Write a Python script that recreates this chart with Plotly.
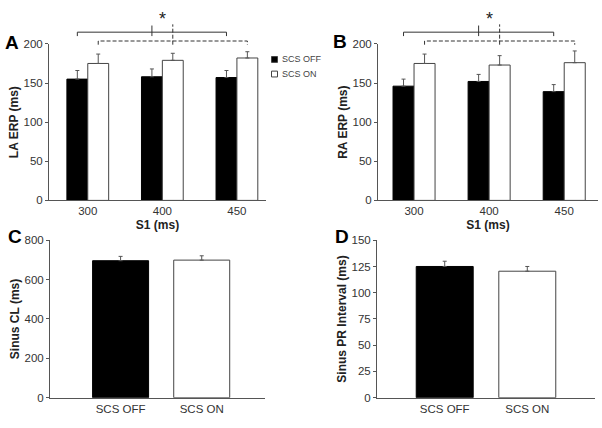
import plotly.graph_objects as go

# ---- data ----
s1_labels = ["300", "400", "450"]
la_off = [155, 158, 157]
la_off_err = [11, 10, 9]
la_on = [175, 179, 182]
la_on_err = [12, 9, 8]

ra_off = [146, 152, 139]
ra_off_err = [9, 9, 9]
ra_on = [175, 173, 176]
ra_on_err = [12, 12, 15]

cond_labels = ["SCS OFF", "SCS ON"]
cl_values = [696, 699]
cl_err = [22, 22]
pr_values = [125, 120.5]
pr_err = [5, 4.5]

FONT = "Arial, Liberation Sans, sans-serif"
AX = "#555555"
TXT = "#333333"
W, H = 602, 428

def px_x(p):
    return p / W

def px_y(p):
    return (H - p) / H

BW = 0.28
xs = list(range(len(s1_labels)))
xc = list(range(len(cond_labels)))

dom = {
    "A": dict(x=[px_x(49), px_x(266)], y=[px_y(200), px_y(39)], xr=[-0.52, 2.39]),
    "B": dict(x=[px_x(378), px_x(598)], y=[px_y(200), px_y(39)], xr=[-0.48, 2.45]),
    "C": dict(x=[px_x(50), px_x(265)], y=[px_y(403), px_y(241)], xr=[-0.87, 1.78]),
    "D": dict(x=[px_x(377), px_x(595)], y=[px_y(403), px_y(241)], xr=[-0.82, 1.82]),
}

fig = go.Figure()

def err(arr):
    return dict(type="data", symmetric=False, array=arr, arrayminus=[0] * len(arr),
                color=AX, thickness=1, width=2)

def pair(off, off_err, on, on_err, xa, ya):
    fig.add_bar(x=xs, y=off, width=BW, offset=-BW, name="SCS OFF",
                marker=dict(color="black", line=dict(color="black", width=1)),
                error_y=err(off_err), xaxis=xa, yaxis=ya, showlegend=False)
    fig.add_bar(x=xs, y=on, width=BW, offset=0, name="SCS ON",
                marker=dict(color="white", line=dict(color="#444444", width=1)),
                error_y=err(on_err), xaxis=xa, yaxis=ya, showlegend=False)

pair(la_off, la_off_err, la_on, la_on_err, "x", "y")
pair(ra_off, ra_off_err, ra_on, ra_on_err, "x2", "y2")

for vals, errs, xa, ya in [(cl_values, cl_err, "x3", "y3"), (pr_values, pr_err, "x4", "y4")]:
    fig.add_bar(x=xc, y=vals, width=0.69,
                marker=dict(color=["black", "white"], line=dict(color=["black", "#444444"], width=1)),
                error_y=err(errs), xaxis=xa, yaxis=ya, showlegend=False)

tickfont = dict(family=FONT, size=11.5, color=TXT)
titlefont = dict(family=FONT, size=12, color="#222222")

def xaxis(d, tv, tt, ya, title=None):
    a = dict(domain=d["x"], range=d["xr"], tickvals=tv, ticktext=tt, showline=True,
             linecolor=AX, linewidth=1, ticks="", showgrid=False, zeroline=False,
             tickfont=tickfont, fixedrange=True, anchor=ya)
    if title:
        a["title"] = dict(text="<b>" + title + "</b>", font=titlefont, standoff=4)
    return a

def yaxis(d, rng, dtick, title, xa, standoff):
    return dict(domain=d["y"], range=rng, dtick=dtick, showline=True, linecolor=AX,
                linewidth=1, ticks="outside", ticklen=3, tickcolor=AX, showgrid=False,
                zeroline=False, tickfont=tickfont, anchor=xa, fixedrange=True,
                title=dict(text="<b>" + title + "</b>", font=titlefont, standoff=standoff))

fig.update_layout(
    width=W, height=H, margin=dict(l=0, r=0, t=0, b=0),
    paper_bgcolor="white", plot_bgcolor="white", barmode="overlay",
    font=dict(family=FONT, color=TXT),
    xaxis=xaxis(dom["A"], xs, s1_labels, "y", "S1 (ms)"),
    yaxis=yaxis(dom["A"], [0, 200], 50, "LA ERP (ms)", "x", 2),
    xaxis2=xaxis(dom["B"], xs, s1_labels, "y2", "S1 (ms)"),
    yaxis2=yaxis(dom["B"], [0, 200], 50, "RA ERP (ms)", "x2", 2),
    xaxis3=xaxis(dom["C"], xc, cond_labels, "y3"),
    yaxis3=yaxis(dom["C"], [0, 800], 200, "Sinus CL (ms)", "x3", 2),
    xaxis4=xaxis(dom["D"], xc, cond_labels, "y4"),
    yaxis4=yaxis(dom["D"], [0, 150], 25, "Sinus PR Interval (ms)", "x4", 2),
)

# ---- significance brackets (data units above the 0-200 scale) ----
def ypaper(d, v, top=200.0):
    y0, y1 = d["y"]
    return y0 + v / top * (y1 - y0)

shapes = []
annotations = []
for key, xa in [("A", "x"), ("B", "x2")]:
    d = dom[key]
    blk = [x - BW / 2 for x in xs]
    wht = [x + BW / 2 for x in xs]
    solid = dict(color="#333333", width=1)
    dashed = dict(color="#333333", width=1, dash="4px,2px")
    shapes.append(dict(type="path", xref=xa, yref="paper", line=solid,
                       path=f"M {blk[0]},{ypaper(d,210)} L {blk[0]},{ypaper(d,215)} "
                            f"L {blk[2]},{ypaper(d,215)} L {blk[2]},{ypaper(d,210)}"))
    shapes.append(dict(type="line", xref=xa, yref="paper", line=solid,
                       x0=blk[1], x1=blk[1], y0=ypaper(d, 210), y1=ypaper(d, 223.5)))
    shapes.append(dict(type="path", xref=xa, yref="paper", line=dashed,
                       path=f"M {wht[0]},{ypaper(d,199)} L {wht[0]},{ypaper(d,203.7)} "
                            f"L {wht[2]},{ypaper(d,203.7)} L {wht[2]},{ypaper(d,199)}"))
    shapes.append(dict(type="line", xref=xa, yref="paper", line=dashed,
                       x0=wht[1], x1=wht[1], y0=ypaper(d, 199), y1=ypaper(d, 225)))
    annotations.append(dict(x=(blk[1] + wht[1]) / 2, y=ypaper(d, 232), xref=xa, yref="paper",
                            text="*", showarrow=False, font=dict(family=FONT, size=18, color="#222222"),
                            xanchor="center", yanchor="middle"))

# panel letters
for letter, px, py in [("A", 12, 38), ("B", 340, 37), ("C", 15, 237), ("D", 342, 237)]:
    annotations.append(dict(x=px_x(px), y=px_y(py), xref="paper", yref="paper", text=f"<b>{letter}</b>",
                            showarrow=False, font=dict(family=FONT, size=19, color="black"),
                            xanchor="center", yanchor="middle"))

# legend
for i, (lab, fc) in enumerate(zip(cond_labels, ["black", "white"])):
    cy = 55 + 15 * i
    shapes.append(dict(type="rect", xref="paper", yref="paper",
                       x0=px_x(271.5), x1=px_x(277.5), y0=px_y(cy + 3), y1=px_y(cy - 3),
                       fillcolor=fc, line=dict(color="#444444", width=1)))
    annotations.append(dict(x=px_x(280), y=px_y(cy), xref="paper", yref="paper", text=lab,
                            showarrow=False, font=dict(family=FONT, size=9, color="#444444"),
                            xanchor="left", yanchor="middle"))

fig.update_layout(shapes=shapes, annotations=annotations)
fig.write_html("out.html", config={"displayModeBar": False},
               post_script="document.body.style.margin='0px';document.body.style.overflow='hidden';")
